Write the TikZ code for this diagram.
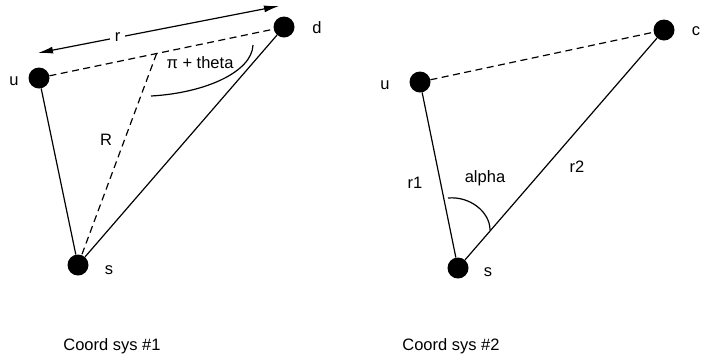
\documentclass[tikz,border=0pt]{standalone}
\usepackage{fontspec}
\setmainfont{Liberation Sans}
\usetikzlibrary{arrows.meta,calc}

\begin{document}
\begin{tikzpicture}[x=1pt, y=-1pt, font=\fontsize{16.5}{19}\selectfont,
  dot/.style={circle, fill=black, inner sep=0pt, minimum size=21pt},
  lbl/.style={inner sep=0pt},
  ln/.style={line width=1.2pt},
  dsh/.style={ln, dash pattern=on 7pt off 4.5pt},
  ar/.style={ln, {Latex[length=15pt,width=7pt]}-{Latex[length=15pt,width=7pt]}}]
\useasboundingbox (0,0) rectangle (701,360);

% Coord sys #1
\node[dot] (u1) at (39,78) {};
\node[dot] (d1) at (284,27) {};
\node[dot] (s1) at (78,265) {};
\node[lbl] at (14,81) {u};
\node[lbl] at (317,28) {d};
\node[lbl] at (109,270) {s};
\coordinate (a1) at ($(u1)!0.48!(d1)$);
\draw[ln] (u1) -- (s1);
\draw[ln] (s1) -- (d1);
\draw[dsh] (u1) -- (d1);
\draw[dsh] (s1.center) -- (a1);
\node[lbl] at (106,140) {R};
\coordinate (rl) at (38,53);
\coordinate (rr) at (279,6);
\draw[ar] (rl) -- node[pos=0.33, fill=white, inner sep=5pt] {r} (rr);
\coordinate (t1) at (151,96);
\coordinate (t2) at (253,45);
\draw[ln] (t1) .. controls (205,93) and (252,72) .. (t2);
\node[lbl] at (200,63) {π + theta};
\node[lbl] at (112,346) {Coord sys \#1};

% Coord sys #2
\node[dot] (u2) at (420,82) {};
\node[dot] (d2) at (664,30) {};
\node[dot] (s2) at (458,268) {};
\node[lbl] at (385,85) {u};
\node[lbl] at (696,31) {c};
\node[lbl] at (488,272) {s};
\draw[ln] (u2) -- (s2);
\draw[ln] (s2) -- (d2);
\draw[dsh] (u2) -- (d2);
\coordinate (b1) at (448,198);
\coordinate (b2) at (490,230);
\draw[ln] (b1) .. controls (470,196) and (490,212) .. (b2);
\node[lbl] at (415,183) {r1};
\node[lbl] at (485,178) {alpha};
\node[lbl] at (577,167) {r2};
\node[lbl] at (451,346) {Coord sys \#2};
\end{tikzpicture}
\end{document}
